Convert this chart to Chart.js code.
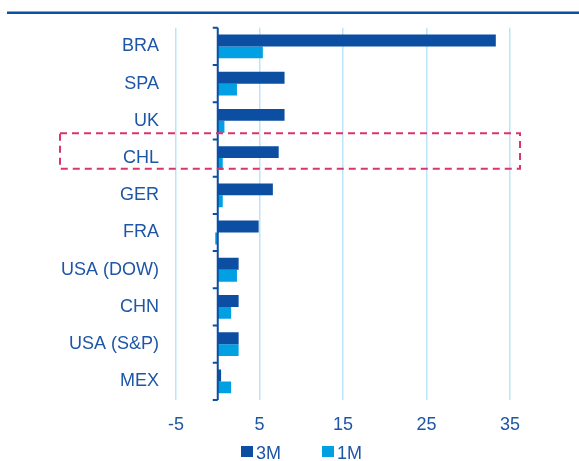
<!DOCTYPE html>
<html>
<head>
<meta charset="utf-8">
<script src="https://cdn.jsdelivr.net/npm/chart.js@4"></script>
<style>
  html, body { margin: 0; padding: 0; background: #fff; }
  #wrap { width: 579px; height: 461px; position: relative; }
</style>
</head>
<body>
<div id="wrap"><canvas id="chart"></canvas></div>
<script>
// data
const categories = ['BRA', 'SPA', 'UK', 'CHL', 'GER', 'FRA', 'USA (DOW)', 'CHN', 'USA (S&P)', 'MEX'];
const threeM = [33.3, 8.0, 8.0, 7.3, 6.6, 4.9, 2.5, 2.5, 2.5, 0.4];
const oneM = [5.4, 2.3, 0.8, 0.6, 0.6, -0.3, 2.3, 1.6, 2.5, 1.6];
const seriesNames = ['3M', '1M'];
const xMin = -5, xMax = 35, xStep = 10;
const highlight = 'CHL';

const DARK = '#0B4EA2';
const LIGHT = '#00A0E3';
const TEXT = '#1D56A6';
const GRID = '#BDE5F7';
const FONT = 'Arial, "Liberation Sans", sans-serif';

Chart.defaults.font.family = FONT;
Chart.defaults.font.size = 18;
Chart.defaults.color = TEXT;

// zero axis, top rule, highlight box and legend
const extras = {
    id: 'extras',
    afterDatasetsDraw(chart) {
        const { ctx, chartArea, scales: { x, y } } = chart;
        const step = y.getPixelForValue(1) - y.getPixelForValue(0);
        ctx.save();

        // top rule
        ctx.strokeStyle = DARK;
        ctx.lineWidth = 2.5;
        ctx.beginPath();
        ctx.moveTo(7, chartArea.top - 15);
        ctx.lineTo(chart.width, chartArea.top - 15);
        ctx.stroke();

        // category axis at zero
        const x0 = x.getPixelForValue(0);
        ctx.lineWidth = 2;
        ctx.beginPath();
        ctx.moveTo(x0, chartArea.top);
        ctx.lineTo(x0, chartArea.bottom);
        for (let i = 0; i <= categories.length; i++) {
            const yy = chartArea.top + i * step;
            ctx.moveTo(x0 - 5, yy);
            ctx.lineTo(x0, yy);
        }
        ctx.stroke();

        // dashed highlight box
        const idx = categories.indexOf(highlight);
        const cy = y.getPixelForValue(idx);
        ctx.strokeStyle = '#D9356C';
        ctx.lineWidth = 2;
        ctx.setLineDash([7, 5]);
        ctx.strokeRect(60, cy - step * 0.67, x.getPixelForValue(36.2) - 60, step * 0.96);
        ctx.setLineDash([]);

        // legend
        ctx.font = '18px ' + FONT;
        ctx.textBaseline = 'middle';
        const ly = 452;
        let lx = 241;
        chart.data.datasets.forEach(ds => {
            ctx.fillStyle = ds.backgroundColor;
            ctx.fillRect(lx, ly - 6, 12, 11);
            ctx.fillStyle = TEXT;
            ctx.fillText(ds.label, lx + 15, ly + 2);
            lx += 81;
        });
        ctx.restore();
    }
};

new Chart(document.getElementById('chart'), {
    type: 'bar',
    data: {
        labels: categories,
        datasets: [
            { label: seriesNames[0], data: threeM, backgroundColor: DARK },
            { label: seriesNames[1], data: oneM, backgroundColor: LIGHT }
        ]
    },
    options: {
        indexAxis: 'y',
        responsive: true,
        maintainAspectRatio: false,
        animation: false,
        datasets: { bar: { categoryPercentage: 0.64, barPercentage: 1 } },
        layout: { padding: { top: 25, right: 69, bottom: 11, left: 0 } },
        plugins: { legend: { display: false }, tooltip: { enabled: false } },
        scales: {
            x: {
                min: xMin, max: xMax,
                ticks: { stepSize: xStep, padding: 14, color: TEXT },
                grid: { color: GRID, lineWidth: 1.5, drawTicks: false },
                border: { display: false },
                afterFit: s => { s.height = 50; }
            },
            y: {
                ticks: { padding: 17, color: TEXT },
                grid: { display: false, drawTicks: false },
                border: { display: false },
                afterFit: s => { s.width = 176; }
            }
        }
    },
    plugins: [extras]
});
</script>
</body>
</html>
